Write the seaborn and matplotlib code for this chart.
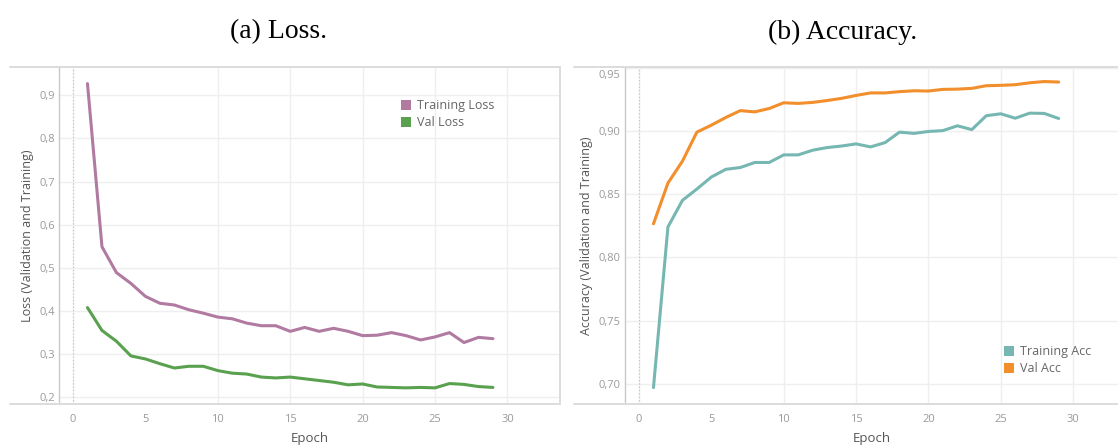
import matplotlib
matplotlib.use("Agg")
import matplotlib.pyplot as plt
import matplotlib.transforms as mtransforms
from matplotlib.lines import Line2D
from matplotlib.patches import Patch
from matplotlib.ticker import FuncFormatter
import pandas as pd
import seaborn as sns

epochs = list(range(1, 30))

train_loss = [0.927, 0.549, 0.489, 0.464, 0.434, 0.418, 0.414, 0.403, 0.395, 0.386,
              0.382, 0.372, 0.366, 0.366, 0.353, 0.362, 0.353, 0.360, 0.353, 0.343,
              0.344, 0.350, 0.343, 0.333, 0.340, 0.350, 0.327, 0.339, 0.336]
val_loss = [0.408, 0.355, 0.330, 0.296, 0.289, 0.278, 0.268, 0.272, 0.272, 0.262,
            0.256, 0.254, 0.247, 0.245, 0.247, 0.243, 0.239, 0.235, 0.229, 0.231,
            0.224, 0.223, 0.222, 0.223, 0.222, 0.232, 0.230, 0.225, 0.223]

train_acc = [0.697, 0.824, 0.845, 0.854, 0.8635, 0.8696, 0.871, 0.875, 0.875, 0.881,
             0.881, 0.8847, 0.8868, 0.888, 0.8897, 0.8873, 0.8907, 0.899, 0.898, 0.8995,
             0.9002, 0.904, 0.901, 0.912, 0.9135, 0.910, 0.914, 0.9138, 0.9098]
val_acc = [0.8265, 0.8587, 0.876, 0.899, 0.9045, 0.9106, 0.916, 0.915, 0.9177, 0.9222,
           0.9217, 0.9225, 0.924, 0.9257, 0.928, 0.930, 0.930, 0.931, 0.9317, 0.9315,
           0.9328, 0.933, 0.9336, 0.9357, 0.936, 0.9365, 0.938, 0.939, 0.9386]

loss_ticks = [0.2, 0.3, 0.4, 0.5, 0.6, 0.7, 0.8, 0.9]
acc_ticks = [0.70, 0.75, 0.80, 0.85, 0.90, 0.95]
epoch_ticks = [0, 5, 10, 15, 20, 25, 30]

loss_colors = {"Training Loss": "#b07aa1", "Val Loss": "#59a14f"}
acc_colors = {"Training Acc": "#76b7b2", "Val Acc": "#f28e2b"}

W, H = 1118, 446
FONT = "Open Sans"
TICK_C = "#9a9a9a"
LABEL_C = "#555555"
FRAME_C = "#dcdcdc"

sns.set_theme(style="whitegrid")
plt.rcParams["font.family"] = [FONT, "DejaVu Sans"]

fig = plt.figure(figsize=(W / 100, H / 100), dpi=100)


def px_axes(x0, x1, y0, y1):
    return fig.add_axes([x0 / W, 1 - y1 / H, (x1 - x0) / W, (y1 - y0) / H])


def long_frame(series):
    rows = []
    for name, values in series.items():
        for e, v in zip(epochs, values):
            rows.append({"Epoch": e, "value": v, "series": name})
    return pd.DataFrame(rows)


def style_axes(ax, ylabel, yticks, ydec, xlim, ylim):
    ax.set_xlim(*xlim)
    ax.set_ylim(*ylim)
    ax.set_xticks(epoch_ticks)
    ax.set_yticks(yticks)
    ax.yaxis.set_major_formatter(FuncFormatter(lambda v, _: f"{v:.{ydec}f}".replace(".", ",")))
    ax.grid(True, color="#efefef", linewidth=1)
    ax.tick_params(axis="both", length=0, labelsize=8, labelcolor=TICK_C)
    ax.tick_params(axis="x", pad=7)
    ax.tick_params(axis="y", pad=3)
    ax.set_xlabel("Epoch", fontsize=9.5, color=LABEL_C, labelpad=5)
    ax.set_ylabel(ylabel, fontsize=9, color=LABEL_C, labelpad=4)
    for side in ["top", "bottom", "right"]:
        ax.spines[side].set_visible(False)
    ax.spines["left"].set_color("#c8c8c8")
    ax.spines["left"].set_linewidth(1)
    ax.axvline(0, color="#c0c0c0", linestyle=(0, (1, 2)), linewidth=0.8, zorder=1)
    for line in ax.get_xgridlines():
        if abs(line.get_xdata()[0]) < 1e-9:
            line.set_visible(False)


def add_legend(ax, colors, anchor):
    handles = [Patch(facecolor=c, edgecolor="none", label=n) for n, c in colors.items()]
    leg = ax.legend(handles=handles, loc="upper left", bbox_to_anchor=anchor,
                    frameon=False, borderpad=0, borderaxespad=0,
                    handlelength=0.8, handleheight=0.9, handletextpad=0.45,
                    labelspacing=0.35, fontsize=9)
    for t in leg.get_texts():
        t.set_color("#666666")


def frame_lines(x0, x1, y0, y1, right_edge):
    for y in (y0, y1):
        fig.add_artist(Line2D([x0 / W, x1 / W], [1 - y / H, 1 - y / H],
                              transform=fig.transFigure, color=FRAME_C, linewidth=1.4))
    if right_edge:
        fig.add_artist(Line2D([x1 / W, x1 / W], [1 - y0 / H, 1 - y1 / H],
                              transform=fig.transFigure, color=FRAME_C, linewidth=1.4))


# (a) Loss
ax1 = px_axes(59, 560, 67, 404)
df_loss = long_frame({"Training Loss": train_loss, "Val Loss": val_loss})
sns.lineplot(data=df_loss, x="Epoch", y="value", hue="series", palette=loss_colors,
             linewidth=2.2, ax=ax1, legend=False, zorder=3)
style_axes(ax1, "Loss (Validation and Training)", loss_ticks, 1,
           (-0.967, 33.63), (0.1846, 0.9655))
add_legend(ax1, loss_colors, (0.683, 0.905))
frame_lines(10, 560, 67, 404, True)

# (b) Accuracy
ax2 = px_axes(625, 1118, 67, 404)
df_acc = long_frame({"Training Acc": train_acc, "Val Acc": val_acc})
sns.lineplot(data=df_acc, x="Epoch", y="value", hue="series", palette=acc_colors,
             linewidth=2.2, ax=ax2, legend=False, zorder=3)
style_axes(ax2, "Accuracy (Validation and Training)", acc_ticks, 2,
           (-0.967, 33.1), (0.684, 0.9505))
add_legend(ax2, acc_colors, (0.769, 0.175))
frame_lines(574, 1118, 67, 404, False)

# the top accuracy label sits a little below the frame, as in the source chart
fig.canvas.draw()
top_label = ax2.get_yticklabels()[-1]
top_label.set_transform(top_label.get_transform()
                        + mtransforms.ScaledTranslation(0, -6 / 100, fig.dpi_scale_trans))

fig.text(279 / W, 1 - 32 / H, "(a) Loss.", family="Liberation Serif", fontsize=20,
         ha="center", va="center", color="black")
fig.text(843 / W, 1 - 32 / H, "(b) Accuracy.", family="Liberation Serif", fontsize=20,
         ha="center", va="center", color="black")

fig.savefig("out.png", dpi=100)
